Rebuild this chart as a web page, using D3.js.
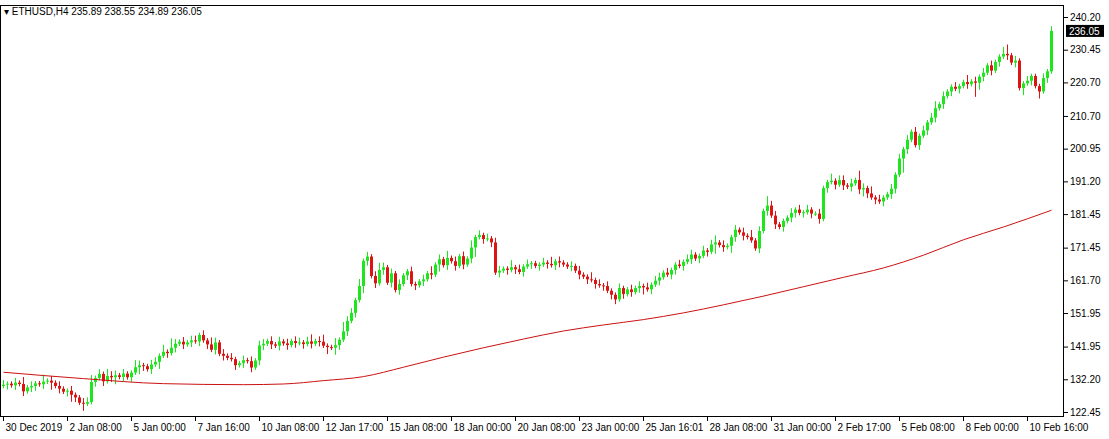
<!DOCTYPE html><html><head><meta charset="utf-8"><script src="https://d3js.org/d3.v7.min.js"></script>
<style>body{margin:0;background:#fff}svg{display:block}text{font-family:"Liberation Sans",Arial,sans-serif;font-size:10px;fill:#000}</style></head><body><svg id="c" width="1109" height="439"></svg><script>
const closes=[130.6,130.9,130.4,131.2,130.8,128.6,129.8,130.2,131.0,130.7,
131.5,131.8,131.2,130.2,129.4,128.5,128.8,127.6,126.8,125.2,
124.9,125.4,131.4,132.6,133.8,131.6,133.2,132.8,133.4,132.9,
133.9,132.8,134.2,135.8,136.4,136.1,135.2,136.6,137.4,139.2,
140.4,140.0,141.6,142.8,143.4,142.6,143.2,143.8,143.5,145.4,
143.8,142.6,141.0,143.2,139.8,139.2,138.6,138.2,136.4,137.0,
137.9,137.6,135.7,137.8,142.3,142.8,143.6,142.6,142.2,143.5,
142.9,142.4,143.6,143.0,143.2,142.7,143.5,142.8,143.6,143.4,
142.2,141.8,141.6,142.4,144.0,146.5,149.6,152.0,155.8,160.0,
167.5,168.8,163.0,160.8,164.8,165.6,161.0,163.8,158.8,160.6,
163.2,164.4,160.6,160.2,161.4,162.0,163.8,163.4,166.4,168.0,
166.2,168.4,167.4,166.0,168.9,166.4,168.2,171.5,174.6,175.2,
174.0,174.2,173.0,164.0,164.6,165.2,164.8,165.6,165.0,164.2,
165.8,166.5,166.8,166.0,166.4,167.0,166.6,166.2,167.4,167.0,
166.4,165.8,166.0,164.6,163.4,162.8,162.0,161.8,160.6,160.2,
160.0,158.6,157.4,156.0,159.4,157.6,159.0,158.2,159.4,160.0,
159.6,159.0,160.4,161.6,162.6,164.0,163.4,164.8,166.4,166.0,
167.2,168.0,169.4,168.2,169.0,170.6,170.2,172.4,173.0,172.2,
171.6,172.0,174.6,176.8,176.0,175.0,174.6,173.6,171.2,176.4,
182.4,184.0,181.0,178.4,177.6,179.4,180.4,181.8,182.8,181.8,
182.0,182.8,181.6,181.6,180.0,189.2,191.0,191.4,190.2,191.6,
190.0,189.6,190.6,191.6,188.8,189.2,187.6,186.4,185.8,185.2,
186.4,187.4,189.0,193.2,198.0,200.8,203.6,206.0,202.0,204.8,
206.4,208.8,210.2,213.0,214.2,216.6,218.0,219.4,218.8,219.6,
220.8,220.2,221.0,220.6,222.4,223.6,225.8,224.2,226.8,228.4,
229.2,228.8,226.6,227.2,219.0,220.4,221.2,222.6,219.6,218.0,
222.0,224.0,236.05];
const firstOpen=130.2;
const upWick="2112131211312121121122312132212113211221314212122121321212112121221212121221231231131422131212321212112112131213121213121212211312121112131211212113121211211212121221211212211212312112121312142211121212112113122121421312112121212121231211211312121211341211211121212132213";
const dnWick="1212121221213121232131121212312121321213121212121212121211212121221212121212121213132121213212121212121212121312121212412121212121212121212211212121212122121212312121122121212121412132121112121212122121212121212121232121212216211212121212121216321212121213121312121322";
const maIdx=[0,20,40,60,70,80,90,100,110,120,130,140,150,160,170,180,190,200,210,220,230,240,250,262];
const maVal=[134.3,132.4,130.9,130.6,130.8,131.8,133.0,135.8,138.8,141.6,144.2,146.6,148.4,150.0,152.0,154.4,157.0,159.8,162.6,165.4,169.2,173.8,177.6,182.6];
const yTicks=[240.20,230.45,220.70,210.70,200.95,191.20,181.45,171.45,161.70,151.95,141.95,132.20,122.45];
const xTickIdx=[0,16,32,48,64,80,96,112,128,144,160,176,192,208,224,240,256];
const xTickLbl=["30 Dec 2019","2 Jan 08:00","5 Jan 00:00","7 Jan 16:00","10 Jan 08:00","12 Jan 17:00","15 Jan 08:00","18 Jan 00:00","20 Jan 08:00","23 Jan 00:00","25 Jan 16:01","28 Jan 08:00","31 Jan 00:00","2 Feb 17:00","5 Feb 08:00","8 Feb 00:00","10 Feb 16:00"];
const svg=d3.select("#c");
const L=0,R=1064,T=5,B=416;
const x=d3.scaleLinear().domain([0,1]).range([3.5,7.5]);
const y=d3.scaleLinear().domain([122.45,240.20]).range([412,17]);
svg.append("rect").attr("x",L+0.5).attr("y",T+0.5).attr("width",R-L-1).attr("height",B-T).attr("fill","none").attr("stroke","#000");
const data=closes.map((c,i)=>{const o=i?closes[i-1]:firstOpen;return{i,o,c,h:Math.max(o,c)+(+upWick[i]||1)*0.7,l:Math.min(o,c)-(+dnWick[i]||1)*0.7};});
const g=svg.append("g");
g.selectAll("line.w").data(data).join("line").attr("x1",d=>x(d.i)).attr("x2",d=>x(d.i)).attr("y1",d=>y(d.h)).attr("y2",d=>y(d.l)).attr("stroke",d=>d.c>=d.o?"#1ee61e":"#dc1414");
g.selectAll("rect.b").data(data).join("rect").attr("x",d=>x(d.i)-1.5).attr("width",3).attr("y",d=>y(Math.max(d.o,d.c))).attr("height",d=>Math.max(1,Math.abs(y(d.o)-y(d.c)))).attr("fill",d=>d.c>=d.o?"#1ee61e":"#dc1414");
svg.append("path").datum(maIdx.map((d,k)=>[d,maVal[k]])).attr("fill","none").attr("stroke","#cc1111").attr("stroke-width",1).attr("d",d3.line().x(d=>x(d[0])).y(d=>y(d[1])).curve(d3.curveMonotoneX));
svg.append("g").attr("transform",`translate(${R},0)`).call(d3.axisRight(y).tickValues(yTicks).tickFormat(d3.format(".2f")).tickSize(4)).call(a=>{a.select(".domain").remove();a.selectAll("text").attr("x",6).style("font-size","10px").style("font-family","Liberation Sans, Arial, sans-serif");});
const xt=svg.append("g").attr("transform",`translate(0,${B})`);
xTickIdx.forEach((v,k)=>{xt.append("line").attr("x1",x(v)).attr("x2",x(v)).attr("y1",0).attr("y2",5).attr("stroke","#000");xt.append("text").attr("x",x(v)+2).attr("y",15).text(xTickLbl[k]);});
const last=closes[closes.length-1];
svg.append("rect").attr("x",R+2).attr("y",y(last)-6).attr("width",38).attr("height",12).attr("fill","#000");
svg.append("text").attr("x",R+5).attr("y",y(last)+4).style("fill","#fff").text(last.toFixed(2));
svg.append("text").attr("x",4).attr("y",15).text("▾ ETHUSD,H4  235.89 238.55 234.89 236.05");
</script></body></html>
